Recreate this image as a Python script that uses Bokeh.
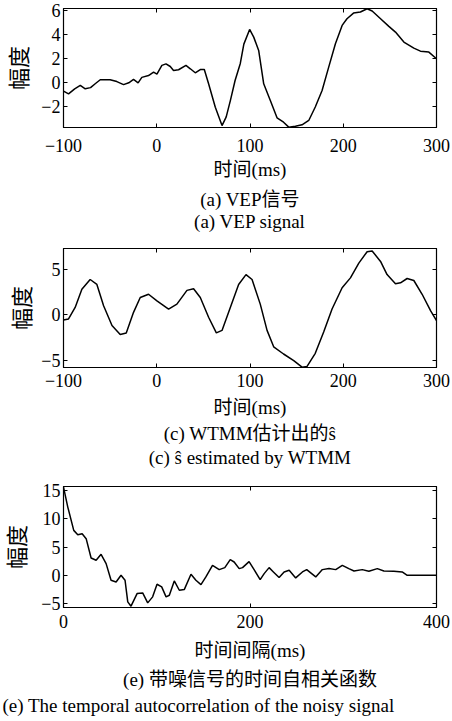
from bokeh.plotting import figure
from bokeh.models import Range1d, LinearAxis, Title, FixedTicker
from bokeh.layouts import column
from bokeh.embed import file_html
from bokeh.resources import INLINE

# ---------------- data ----------------
vep_t = [-100, -94.6, -88, -82, -76.7, -71, -66, -60.6, -50, -42.8, -35.6, -30, -24.9, -20, -16,
         -8.8, -3.4, 0.2, 5.5, 9.9, 14.5, 18, 23.4, 31.3, 36, 41.3, 46.7, 51, 55.6, 62.8, 70,
         74.5, 79, 84, 89.6, 93.4, 99.6, 104, 109.3, 114.7, 121.8, 129, 136, 141.5, 148.7, 155.8,
         163, 170, 177.3, 184.4, 191.6, 198.8, 204, 211, 218.4, 225.6, 231, 240, 248.9, 256,
         265, 275.7, 282.8, 291.8, 300]
vep_v = [-0.69, -0.91, -0.5, -0.22, -0.5, -0.4, -0.08, 0.25, 0.25, 0.1, -0.15, 0.0, 0.28, 0.0, 0.45,
         0.6, 0.88, 0.72, 1.44, 1.57, 1.35, 1.02, 1.08, 1.44, 1.16, 0.83, 1.1, 1.1, -0.08, -2.02, -3.54,
         -2.82, -1.45, 0.19, 1.6, 3.2, 4.42, 3.78, 2.68, -0.08, -1.46, -2.9, -3.26, -3.67, -3.6, -3.48,
         -3.12, -2.0, -0.64, 1.3, 3.23, 4.75, 5.3, 5.77, 5.86, 6.13, 5.94, 5.3, 4.67, 4.2,
         3.37, 2.87, 2.62, 2.54, 1.99]

wtmm_t = [-100, -94.6, -87.5, -80.3, -71.4, -64.2, -57, -48, -39.2, -32.7, -24.9, -17.7, -8.8, 0.2,
          12.7, 21.6, 32.4, 39.5, 46.7, 55.6, 63.9, 70, 78.9, 87.8, 95.7, 102.2, 111, 118.3, 125.4,
          136, 146.9, 155.8, 161.2, 170, 179, 188, 198.8, 207.7, 216.7, 225.6, 231, 240, 247, 256,
          261.4, 268.5, 275.7, 284.6, 293.6, 300]
wtmm_v = [-0.58, -0.47, 0.79, 2.77, 3.85, 3.31, 0.97, -1.19, -2.19, -2.01, 0.25, 1.87, 2.23, 1.51,
          0.61, 1.15, 2.66, 2.84, 1.87, -0.29, -2.01, -1.73, 0.79, 3.31, 4.39, 3.85, 1.15, -1.73, -3.53,
          -4.32, -5.04, -5.76, -5.68, -4.24, -1.9, 0.61, 2.95, 4.03, 5.65, 6.9, 6.98, 5.83, 4.39, 3.38,
          3.49, 3.96, 3.74, 2.23, 0.43, -0.65]

acf_lag = [0, 4.6, 11, 15.3, 20, 24.3, 29.6, 35, 40.3, 45.7, 51, 56.4, 61.7, 66, 68.9, 72.4, 78.9,
           84.9, 90.3, 95.6, 100.3, 105.3, 110, 113.5, 118.8, 124.2, 129.5, 136.7, 142, 147.4, 152.7,
           159.8, 167, 173, 178.8, 183, 188.4, 192, 199, 204.4, 210.9, 215.2, 220.5, 225.1, 231.2,
           236.6, 242, 249, 256.2, 260.8, 270.5, 277.6, 284.7, 291.9, 299, 306, 311.5, 320.4, 327.5,
           336.5, 343.6, 354.3, 363.2, 368.6, 400]
acf_v = [15.6, 12.06, 7.94, 7.18, 7.35, 6.47, 3.06, 2.65, 3.7, 2.06, -0.88, -1.18, 0.0, -0.88, -4.7,
         -5.47, -3.24, -3.12, -4.88, -3.82, -1.59, -2.06, -3.82, -3.53, -1.0, -2.65, -2.53, 0.18, -0.88,
         -1.65, -0.29, 1.76, 1.0, 1.35, 2.76, 2.35, 1.18, 1.35, 2.41, 1.0, -0.76, 0.29, 1.35, 0.59,
         -0.41, 0.59, 0.88, -0.47, 0.59, 1.0, -0.29, 1.0, 1.18, 1.0, 1.76, 1.18, 0.76, 1.0, 0.7,
         1.18, 0.76, 0.7, 0.59, 0.0, 0.0]

x_ticks_time = [-100, 0, 100, 200, 300]
x_ticks_lag = [0, 200, 400]
y_ticks_a = [-2, 0, 2, 4, 6]
y_ticks_c = [-5, 0, 5]
y_ticks_e = [-5, 0, 5, 10, 15]

y_label = "幅度"
x_label_time = "时间(ms)"
x_label_lag = "时间间隔(ms)"
captions_a = ["(a) VEP信号", "(a) VEP signal"]
captions_c = ["(c) WTMM估计出的ŝ", "(c) ŝ estimated by WTMM"]
captions_e = ["(e) 带噪信号的时间自相关函数", "(e) The temporal autocorrelation of the noisy signal"]

FONT = "'Liberation Serif', 'Noto Sans CJK SC'"


def style_axis(ax, ticks, show_labels, standoff=3):
    ax.ticker = FixedTicker(ticks=ticks)
    ax.major_tick_in = 4
    ax.major_tick_out = 0
    ax.minor_tick_line_color = None
    ax.axis_line_color = "black"
    ax.major_tick_line_color = "black"
    ax.major_label_text_font = FONT
    if show_labels:
        ax.major_label_text_color = "black"
        ax.major_label_text_font_size = "18px"
        ax.major_label_standoff = standoff
    else:
        ax.major_label_text_color = None
        ax.major_label_text_font_size = "0px"
        ax.major_label_standoff = 0


def panel(xs, ys, xr, yr, xticks, yticks, xlabel, caps, ylab_so, top, fh, bottom,
          xtick_so, xlab_so, cap_so, cap_off, cap_align):
    p = figure(frame_width=373, frame_height=fh, min_border_left=63, min_border_right=15,
               min_border_top=top, min_border_bottom=bottom,
               x_range=Range1d(*xr), y_range=Range1d(*yr),
               toolbar_location=None, output_backend="svg")
    p.background_fill_color = "white"
    p.border_fill_color = "white"
    p.outline_line_color = "black"
    p.outline_line_width = 1.2
    p.xgrid.visible = False
    p.ygrid.visible = False
    p.line(xs, ys, line_color="black", line_width=1.5)

    style_axis(p.xaxis[0], xticks, True, xtick_so)
    style_axis(p.yaxis[0], yticks, True, 3)
    p.xaxis[0].axis_label = xlabel
    p.xaxis[0].axis_label_text_font = FONT
    p.xaxis[0].axis_label_text_font_size = "19px"
    p.xaxis[0].axis_label_text_font_style = "normal"
    p.xaxis[0].axis_label_text_color = "black"
    p.xaxis[0].axis_label_standoff = xlab_so
    p.yaxis[0].axis_label = y_label
    p.yaxis[0].axis_label_text_font = FONT
    p.yaxis[0].axis_label_text_font_size = "22px"
    p.yaxis[0].axis_label_text_font_style = "normal"
    p.yaxis[0].axis_label_text_color = "black"
    p.yaxis[0].axis_label_standoff = ylab_so

    top_ax = LinearAxis()
    style_axis(top_ax, xticks, False)
    p.add_layout(top_ax, "above")
    right_ax = LinearAxis()
    style_axis(right_ax, yticks, False)
    p.add_layout(right_ax, "right")

    for txt, so, off, al in zip(caps, cap_so, cap_off, cap_align):
        p.add_layout(Title(text=txt, align=al, offset=off, standoff=so,
                           text_font=FONT, text_font_size="19px", text_font_style="normal",
                           text_color="black"), "below")
    return p


pa = panel(vep_t, vep_v, (-100, 300), (-3.7, 6.15), x_ticks_time, y_ticks_a, x_label_time,
           captions_a, 6, 8, 119, 109, 11, 4, [8, -9], [6, 6], ["center", "center"])
pc = panel(wtmm_t, wtmm_v, (-100, 300), (-5.8, 7.25), x_ticks_time, y_ticks_c, x_label_time,
           captions_c, 3, 12, 119, 109, 6, 7, [1, 0], [-7, -7], ["center", "center"])
pe = panel(acf_lag, acf_v, (0, 400), (-5.7, 15.7), x_ticks_lag, y_ticks_e, x_label_lag,
           captions_e, 8, 10, 121, 112, 7, 9, [6, 1], [0, -61], ["center", "left"])

layout = column(pa, pc, pe, spacing=0)
open("out.html", "w").write(file_html(layout, INLINE))
